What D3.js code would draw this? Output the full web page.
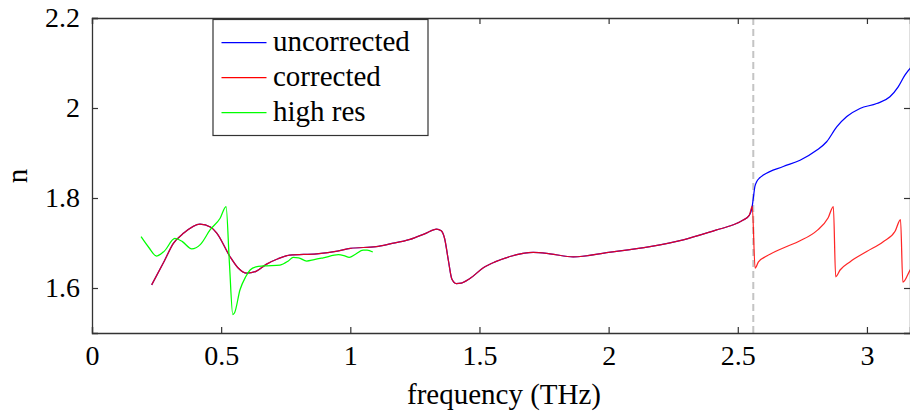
<!DOCTYPE html>
<html>
<head>
<meta charset="utf-8">
<script src="https://cdn.jsdelivr.net/npm/d3@7"></script>
<style>
  html, body { margin: 0; padding: 0; background: #fff; }
  svg { display: block; }
  svg text { font-family: "Liberation Serif" !important; }
</style>
</head>
<body>
<svg id="chart" width="910" height="414" font-family="Liberation Serif"></svg>
<script>
// ---------- data ----------
const sharedFreq = [0.231, 0.28, 0.315, 0.355, 0.418, 0.46, 0.483, 0.534, 0.565, 0.599, 0.635, 0.676, 0.72, 0.766, 0.87, 0.95, 1.0, 1.1, 1.154, 1.231, 1.29, 1.334, 1.352, 1.365, 1.38, 1.393, 1.41, 1.43, 1.463, 1.515, 1.56, 1.618, 1.708, 1.773, 1.863, 2.0, 2.16, 2.289, 2.418, 2.48, 2.521, 2.545, 2.556];
const sharedN    = [1.607, 1.660, 1.699, 1.722, 1.742, 1.735, 1.722, 1.670, 1.645, 1.633, 1.637, 1.653, 1.665, 1.673, 1.676, 1.682, 1.688, 1.692, 1.698, 1.708, 1.721, 1.731, 1.727, 1.710, 1.660, 1.620, 1.610, 1.611, 1.621, 1.645, 1.658, 1.670, 1.679, 1.676, 1.669, 1.679, 1.692, 1.707, 1.729, 1.740, 1.751, 1.762, 1.782];

const uncorrectedTailFreq = [2.560, 2.566, 2.573, 2.585, 2.599, 2.676, 2.741, 2.805, 2.844, 2.883, 2.922, 2.973, 3.038, 3.089, 3.121, 3.147, 3.167, 3.18];
const uncorrectedTailN    = [1.799, 1.825, 1.836, 1.845, 1.851, 1.870, 1.884, 1.906, 1.925, 1.958, 1.981, 1.999, 2.010, 2.025, 2.047, 2.073, 2.088, 2.095];

const correctedTailFreq = [2.567, 2.580, 2.612, 2.676, 2.741, 2.805, 2.850, 2.870, 2.879, 2.896, 2.934, 2.999, 3.063, 3.109, 3.130, 3.139, 3.167, 3.18];
const correctedTailN    = [1.644, 1.658, 1.671, 1.689, 1.705, 1.727, 1.756, 1.781, 1.625, 1.640, 1.658, 1.681, 1.703, 1.726, 1.752, 1.613, 1.640, 1.652];

const highResFreq = [0.190, 0.22, 0.250, 0.28, 0.321, 0.35, 0.386, 0.42, 0.457, 0.496, 0.519, 0.532, 0.545, 0.552, 0.573, 0.595, 0.612, 0.635, 0.663, 0.728, 0.76, 0.779, 0.8, 0.831, 0.86, 0.895, 0.954, 0.975, 0.996, 1.02, 1.050, 1.065, 1.087];
const highResN    = [1.714, 1.690, 1.671, 1.682, 1.710, 1.703, 1.687, 1.697, 1.729, 1.755, 1.781, 1.655, 1.541, 1.545, 1.596, 1.625, 1.640, 1.647, 1.649, 1.651, 1.660, 1.668, 1.667, 1.660, 1.663, 1.667, 1.674, 1.672, 1.668, 1.675, 1.684, 1.684, 1.680];

const xTicks = [0, 0.5, 1, 1.5, 2, 2.5, 3];
const xTickLabels = ["0", "0.5", "1", "1.5", "2", "2.5", "3"];
const yTicks = [1.6, 1.8, 2, 2.2];
const yTickLabels = ["1.6", "1.8", "2", "2.2"];
const cutoffFreq = [2.56];
const seriesNames = ["uncorrected", "corrected", "high res"];
const seriesColors = ["#0000ff", "#ff0000", "#00ff00"];
const seriesOpacity = [1, 0.85, 1];

// ---------- layout ----------
const FONT = "Liberation Serif";
const svg = d3.select("#chart");
const mLeft = 92, mRight = 910, mTop = 18, mBottom = 333;
const x = d3.scaleLinear().domain([0, 3.1667]).range([mLeft, mRight]);
const y = d3.scaleLinear().domain([1.5, 2.2]).range([mBottom, mTop]);

const zip = (a, b) => a.map((v, i) => [v, b[i]]);
const uncorrected = zip(sharedFreq.concat(uncorrectedTailFreq), sharedN.concat(uncorrectedTailN));
const corrected = zip(sharedFreq.concat(correctedTailFreq), sharedN.concat(correctedTailN));
const highRes = zip(highResFreq, highResN);

svg.append("defs").append("clipPath").attr("id", "clip")
  .append("rect").attr("x", mLeft).attr("y", mTop).attr("width", mRight - mLeft).attr("height", mBottom - mTop);

const line = d3.line().x(d => x(d[0])).y(d => y(d[1])).curve(d3.curveMonotoneX);

// cutoff dashed line
svg.selectAll(".cutoff").data(cutoffFreq).enter().append("line")
  .attr("x1", d => x(d)).attr("x2", d => x(d))
  .attr("y1", mTop).attr("y2", mBottom)
  .attr("stroke", "#c4c4c4").attr("stroke-width", 2).attr("stroke-dasharray", "7,4");

const g = svg.append("g").attr("clip-path", "url(#clip)");
[uncorrected, corrected, highRes].forEach((data, i) => {
  g.append("path").datum(data).attr("d", line)
    .attr("fill", "none").attr("stroke", seriesColors[i]).attr("stroke-width", 1.25)
    .attr("stroke-opacity", seriesOpacity[i])
    .attr("stroke-linejoin", "round");
});

// axes (inward ticks on all four sides)
const axisColor = "#333";
const bottomAxis = d3.axisBottom(x).tickValues(xTicks).tickSize(-6).tickFormat((d, i) => xTickLabels[i]).tickPadding(12);
const topAxis = d3.axisTop(x).tickValues(xTicks).tickSize(-6).tickFormat("");
const leftAxis = d3.axisLeft(y).tickValues(yTicks).tickSize(-6).tickFormat((d, i) => yTickLabels[i]).tickPadding(12);
const rightAxis = d3.axisRight(y).tickValues(yTicks).tickSize(-6).tickFormat("");

function styleAxis(sel) {
  sel.attr("font-family", FONT).attr("font-size", 28);
  sel.selectAll("path.domain").attr("stroke", axisColor).attr("stroke-width", 1.3);
  sel.selectAll(".tick line").attr("stroke", axisColor).attr("stroke-width", 1.2);
  sel.selectAll(".tick text").attr("fill", "#000").attr("font-family", FONT).attr("font-size", 28)
    .style("font-size", "28px");
}
svg.append("g").attr("transform", `translate(0,${mBottom})`).call(bottomAxis).call(styleAxis);
svg.append("g").attr("transform", `translate(0,${mTop})`).call(topAxis).call(styleAxis);
svg.append("g").attr("transform", `translate(${mLeft},0)`).call(leftAxis).call(styleAxis);
svg.append("g").attr("transform", `translate(${mRight},0)`).call(rightAxis).call(styleAxis);

// axis labels
svg.append("text").attr("x", 504).attr("y", 404).attr("text-anchor", "middle")
  .attr("font-family", FONT).style("font-size", "29px").text("frequency (THz)");
svg.append("text").attr("transform", "translate(27,176) rotate(-90)").attr("text-anchor", "middle")
  .attr("font-family", FONT).style("font-size", "29px").text("n");

// legend
svg.append("rect").attr("x", 213).attr("y", 19.5).attr("width", 215).attr("height", 116)
  .attr("fill", "#fff").attr("stroke", "#333").attr("stroke-width", 1.2);
seriesNames.forEach((name, i) => {
  const cy = 42.5 + i * 35;
  svg.append("line").attr("x1", 221.5).attr("x2", 266.5).attr("y1", cy).attr("y2", cy)
    .attr("stroke", seriesColors[i]).attr("stroke-width", 1.25);
  svg.append("text").attr("x", 273).attr("y", cy + 8.5).attr("text-anchor", "start")
    .attr("font-family", FONT).style("font-size", "29px").text(name);
});
</script>
</body>
</html>
